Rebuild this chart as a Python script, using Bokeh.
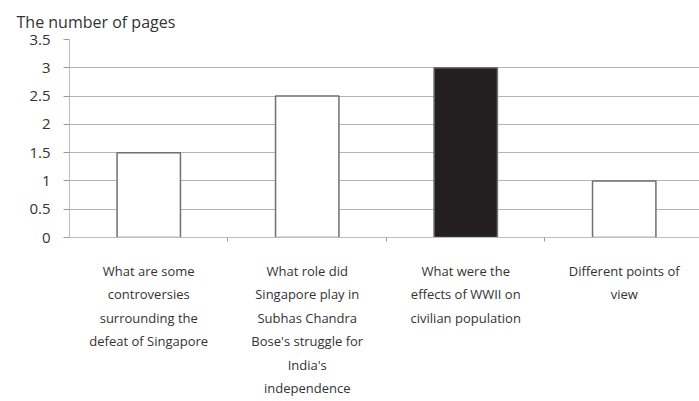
from bokeh.plotting import figure
from bokeh.models import FixedTicker, Range1d
from bokeh.embed import file_html
from bokeh.resources import INLINE

# ---- data ----
categories = [
    "What are some\ncontroversies\nsurrounding the\ndefeat of Singapore",
    "What role did\nSingapore play in\nSubhas Chandra\nBose's struggle for\nIndia's\nindependence",
    "What were the\neffects of WWII on\ncivilian population",
    "Different points of\nview",
]
pages = [1.5, 2.5, 3, 1]
highlight = 2  # index of the dark bar
y_ticks = [0, 0.5, 1, 1.5, 2, 2.5, 3, 3.5]

FONT = "Open Sans"
TXT = "#333333"

xs = [i + 0.5 for i in range(len(categories))]
fills = ["#231f20" if i == highlight else "#ffffff" for i in range(len(categories))]

p = figure(width=699, height=401, output_backend="svg", toolbar_location=None,
           x_range=Range1d(0, 3.975), y_range=Range1d(0, 3.5),
           min_border_left=69, min_border_right=0, min_border_top=39,
           min_border_bottom=164)
p.outline_line_color = None
p.background_fill_color = "white"

p.title.text = "The number of pages"
p.title.text_font = FONT
p.title.text_font_size = "16px"
p.title.text_font_style = "normal"
p.title.text_color = TXT
p.title.offset = -53
p.title.standoff = 14

p.vbar(x=xs, top=pages, width=0.4, fill_color=fills,
       line_color="#6f6f6f", line_width=1.5)

# x axis: labels at category centres, small ticks at boundaries
xa = p.xaxis[0]
xa.ticker = FixedTicker(ticks=xs, minor_ticks=[1, 2, 3])
xa.major_label_overrides = {x: c for x, c in zip(xs, categories)}
xa.major_tick_line_color = None
xa.minor_tick_line_color = "#9a9a9a"
xa.minor_tick_out = 4
xa.minor_tick_in = 0
xa.axis_line_color = "#bdbdbd"
xa.major_label_text_font = FONT
xa.major_label_text_font_size = "13px"
xa.major_label_text_color = TXT
xa.major_label_text_line_height = 1.31
xa.major_label_standoff = 18
xa.major_label_orientation = "horizontal"

ya = p.yaxis[0]
ya.ticker = FixedTicker(ticks=y_ticks)
ya.major_label_overrides = {t: (str(t) if t % 1 else str(int(t))) for t in y_ticks}
ya.axis_line_color = "#bdbdbd"
ya.major_tick_line_color = "#9a9a9a"
ya.major_tick_out = 6
ya.major_tick_in = 0
ya.minor_tick_line_color = None
ya.major_label_text_font = FONT
ya.major_label_text_font_size = "15px"
ya.major_label_text_color = TXT
ya.major_label_standoff = 13

p.xgrid.grid_line_color = None
p.ygrid.grid_line_color = "#b4b4b4"
p.ygrid.grid_line_width = 1.2

open("out.html", "w").write(file_html(p, INLINE))
